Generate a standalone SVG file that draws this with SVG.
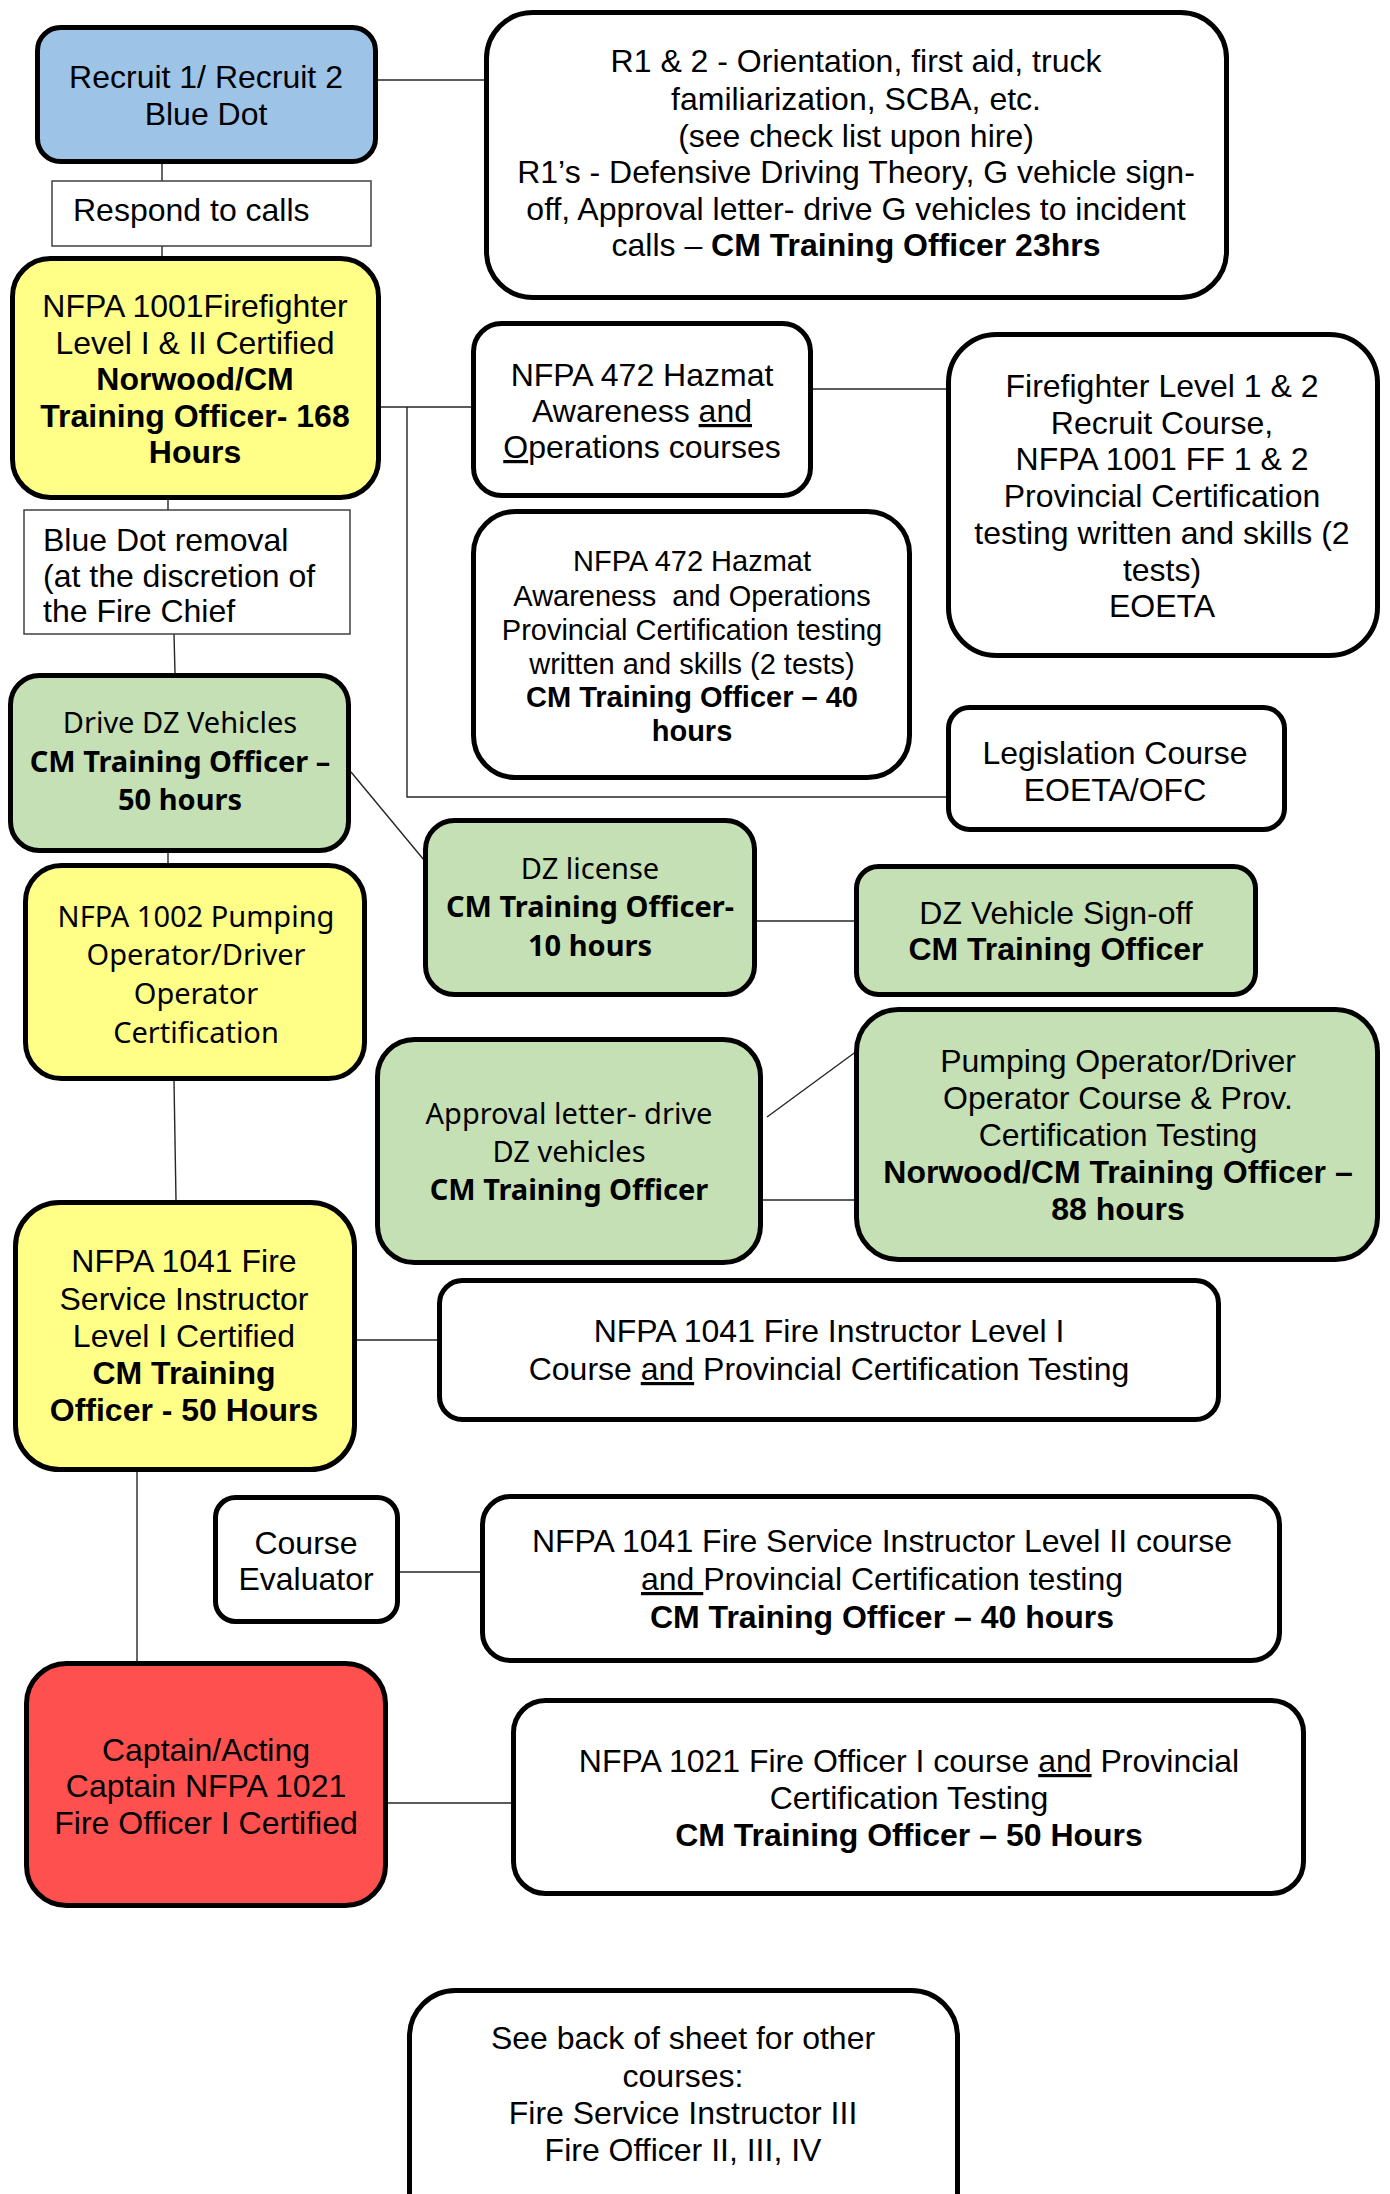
<svg xmlns="http://www.w3.org/2000/svg" width="1390" height="2194" viewBox="0 0 1390 2194">
<style>
.n{stroke:#000;stroke-width:5;}
.w{fill:#fff;}
.bl{fill:#9DC3E6;}
.y{fill:#FFFF88;}
.g{fill:#C5E0B4;}
.r{fill:#FF5050;}
.thin{fill:#fff;stroke:#404040;stroke-width:1.5;}
.c{stroke:#262626;stroke-width:1.4;fill:none;}
text{font-family:"Liberation Sans",Arial,sans-serif;font-size:32px;fill:#000;}
.m{text-anchor:middle;}
.a{font-family:"Noto Sans","Open Sans",sans-serif;font-size:29px;}
.b{font-weight:bold;}
.u{text-decoration:underline;}
</style>
<rect width="1390" height="2194" fill="#fff"/>
<g id="connectors">
<line class="c" x1="378" y1="80" x2="486" y2="80"/>
<line class="c" x1="162" y1="164" x2="162" y2="181"/>
<line class="c" x1="162" y1="246" x2="162" y2="258"/>
<line class="c" x1="381" y1="407" x2="473" y2="407"/>
<polyline class="c" points="407,407 407,797 948,797"/>
<line class="c" x1="813" y1="389" x2="948" y2="389"/>
<line class="c" x1="168" y1="500" x2="168" y2="510"/>
<line class="c" x1="174" y1="634" x2="175" y2="673"/>
<line class="c" x1="351" y1="772" x2="424" y2="860"/>
<line class="c" x1="757" y1="921" x2="856" y2="921"/>
<line class="c" x1="168" y1="853" x2="168" y2="863"/>
<line class="c" x1="767" y1="1117" x2="861" y2="1048"/>
<line class="c" x1="763" y1="1200" x2="856" y2="1200"/>
<line class="c" x1="174" y1="1081" x2="176" y2="1200"/>
<line class="c" x1="357" y1="1340" x2="439" y2="1340"/>
<line class="c" x1="137" y1="1472" x2="137" y2="1661"/>
<line class="c" x1="400" y1="1572" x2="482" y2="1572"/>
<line class="c" x1="388" y1="1803" x2="516" y2="1803"/>
</g>
<g id="recruit">
<rect class="n bl" x="37.5" y="27.5" width="338" height="134" rx="23"/>
<text class="m" x="206" y="88">Recruit 1/ Recruit 2</text>
<text class="m" x="206" y="125">Blue Dot</text>
</g>
<g id="r1-course">
<rect class="n w" x="486.5" y="12.5" width="740" height="285" rx="46"/>
<text class="m" x="856" y="72">R1 &amp; 2 - Orientation, first aid, truck</text>
<text class="m" x="856" y="110">familiarization, SCBA, etc.</text>
<text class="m" x="856" y="147">(see check list upon hire)</text>
<text class="m" x="856" y="183">R1’s - Defensive Driving Theory, G vehicle sign-</text>
<text class="m" x="856" y="220">off, Approval letter- drive G vehicles to incident</text>
<text class="m" x="856" y="256">calls – <tspan class="b">CM Training Officer 23hrs</tspan></text>
</g>
<g id="respond">
<rect class="thin" x="52" y="181" width="319" height="65"/>
<text x="73" y="221">Respond to calls</text>
</g>
<g id="ff-certified">
<rect class="n y" x="12.5" y="258.5" width="366" height="239" rx="38"/>
<text class="m" x="195" y="317">NFPA 1001Firefighter</text>
<text class="m" x="195" y="354">Level I &amp; II Certified</text>
<text class="m b" x="195" y="390">Norwood/CM</text>
<text class="m b" x="195" y="427">Training Officer- 168</text>
<text class="m b" x="195" y="463">Hours</text>
</g>
<g id="blue-dot-removal">
<rect class="thin" x="24" y="510" width="326" height="124"/>
<text x="43" y="551">Blue Dot removal</text>
<text x="43" y="587">(at the discretion of</text>
<text x="43" y="622">the Fire Chief</text>
</g>
<g id="hazmat-courses">
<rect class="n w" x="473.5" y="323.5" width="337" height="172" rx="28"/>
<text class="m" x="642" y="386">NFPA 472 Hazmat</text>
<text class="m" x="642" y="422">Awareness <tspan class="u">and</tspan></text>
<text class="m" x="642" y="458"><tspan class="u">O</tspan>perations courses</text>
</g>
<g id="hazmat-testing">
<rect class="n w" x="473.5" y="511.5" width="436" height="266" rx="42"/>
<text class="m" x="692" y="571" style="font-size:29px">NFPA 472 Hazmat</text>
<text class="m" x="692" y="606" style="font-size:29px">Awareness &#160;and Operations</text>
<text class="m" x="692" y="640" style="font-size:29px">Provincial Certification testing</text>
<text class="m" x="692" y="674" style="font-size:29px">written and skills (2 tests)</text>
<text class="m b" x="692" y="707" style="font-size:29px">CM Training Officer – 40</text>
<text class="m b" x="692" y="741" style="font-size:29px">hours</text>
</g>
<g id="ff-recruit-course">
<rect class="n w" x="948.5" y="334.5" width="429" height="321" rx="48"/>
<text class="m" x="1162" y="397">Firefighter Level 1 &amp; 2</text>
<text class="m" x="1162" y="434">Recruit Course,</text>
<text class="m" x="1162" y="470">NFPA 1001 FF 1 &amp; 2</text>
<text class="m" x="1162" y="507">Provincial Certification</text>
<text class="m" x="1162" y="544">testing written and skills (2</text>
<text class="m" x="1162" y="581">tests)</text>
<text class="m" x="1162" y="617">EOETA</text>
</g>
<g id="legislation">
<rect class="n w" x="948.5" y="707.5" width="336" height="122" rx="21"/>
<text class="m" x="1115" y="764">Legislation Course</text>
<text class="m" x="1115" y="801">EOETA/OFC</text>
</g>
<g id="drive-dz">
<rect class="n g" x="10.5" y="675.5" width="338" height="175" rx="29"/>
<text class="m a" x="180" y="733">Drive DZ Vehicles</text>
<text class="m a b" x="180" y="772">CM Training Officer –</text>
<text class="m a b" x="180" y="810">50 hours</text>
</g>
<g id="dz-license">
<rect class="n g" x="425.5" y="820.5" width="329" height="174" rx="29"/>
<text class="m a" x="590" y="879">DZ license</text>
<text class="m a b" x="590" y="917">CM Training Officer-</text>
<text class="m a b" x="590" y="956">10 hours</text>
</g>
<g id="dz-signoff">
<rect class="n g" x="856.5" y="866.5" width="399" height="128" rx="22"/>
<text class="m" x="1056" y="924">DZ Vehicle Sign-off</text>
<text class="m b" x="1056" y="960">CM Training Officer</text>
</g>
<g id="nfpa-1002">
<rect class="n y" x="25.5" y="865.5" width="339" height="213" rx="36"/>
<text class="m a" x="196" y="927">NFPA 1002 Pumping</text>
<text class="m a" x="196" y="965">Operator/Driver</text>
<text class="m a" x="196" y="1004">Operator</text>
<text class="m a" x="196" y="1043">Certification</text>
</g>
<g id="approval-dz">
<rect class="n g" x="377.5" y="1039.5" width="383" height="223" rx="37"/>
<text class="m a" x="569" y="1124">Approval letter- drive</text>
<text class="m a" x="569" y="1162">DZ vehicles</text>
<text class="m a b" x="569" y="1200">CM Training Officer</text>
</g>
<g id="pumping-course">
<rect class="n g" x="856.5" y="1009.5" width="521" height="250" rx="42"/>
<text class="m" x="1118" y="1072">Pumping Operator/Driver</text>
<text class="m" x="1118" y="1109">Operator Course &amp; Prov.</text>
<text class="m" x="1118" y="1146">Certification Testing</text>
<text class="m b" x="1118" y="1183">Norwood/CM Training Officer –</text>
<text class="m b" x="1118" y="1220">88 hours</text>
</g>
<g id="nfpa-1041">
<rect class="n y" x="15.5" y="1202.5" width="339" height="267" rx="44"/>
<text class="m" x="184" y="1272">NFPA 1041 Fire</text>
<text class="m" x="184" y="1310">Service Instructor</text>
<text class="m" x="184" y="1347">Level I Certified</text>
<text class="m b" x="184" y="1384">CM Training</text>
<text class="m b" x="184" y="1421">Officer - 50 Hours</text>
</g>
<g id="instructor-1-course">
<rect class="n w" x="439.5" y="1280.5" width="779" height="139" rx="23"/>
<text class="m" x="829" y="1342">NFPA 1041 Fire Instructor Level I</text>
<text class="m" x="829" y="1380">Course <tspan class="u">and</tspan> Provincial Certification Testing</text>
</g>
<g id="course-evaluator">
<rect class="n w" x="215.5" y="1497.5" width="182" height="124" rx="20"/>
<text class="m" x="306" y="1554">Course</text>
<text class="m" x="306" y="1590">Evaluator</text>
</g>
<g id="instructor-2-course">
<rect class="n w" x="482.5" y="1496.5" width="797" height="164" rx="28"/>
<text class="m" x="882" y="1552">NFPA 1041 Fire Service Instructor Level II course</text>
<text class="m" x="882" y="1590"><tspan class="u">and </tspan>Provincial Certification testing</text>
<text class="m b" x="882" y="1628">CM Training Officer – 40 hours</text>
</g>
<g id="captain">
<rect class="n r" x="26.5" y="1663.5" width="359" height="242" rx="40"/>
<text class="m" x="206" y="1761">Captain/Acting</text>
<text class="m" x="206" y="1797">Captain NFPA 1021</text>
<text class="m" x="206" y="1834">Fire Officer I Certified</text>
</g>
<g id="fire-officer-course">
<rect class="n w" x="513.5" y="1700.5" width="790" height="193" rx="32"/>
<text class="m" x="909" y="1772">NFPA 1021 Fire Officer I course <tspan class="u">and</tspan> Provincial</text>
<text class="m" x="909" y="1809">Certification Testing</text>
<text class="m b" x="909" y="1846">CM Training Officer – 50 Hours</text>
</g>
<g id="see-back">
<rect class="n w" x="409.5" y="1990.5" width="548" height="260" rx="46"/>
<text class="m" x="683" y="2049">See back of sheet for other</text>
<text class="m" x="683" y="2087">courses:</text>
<text class="m" x="683" y="2124">Fire Service Instructor III</text>
<text class="m" x="683" y="2161">Fire Officer II, III, IV</text>
</g>
</svg>
